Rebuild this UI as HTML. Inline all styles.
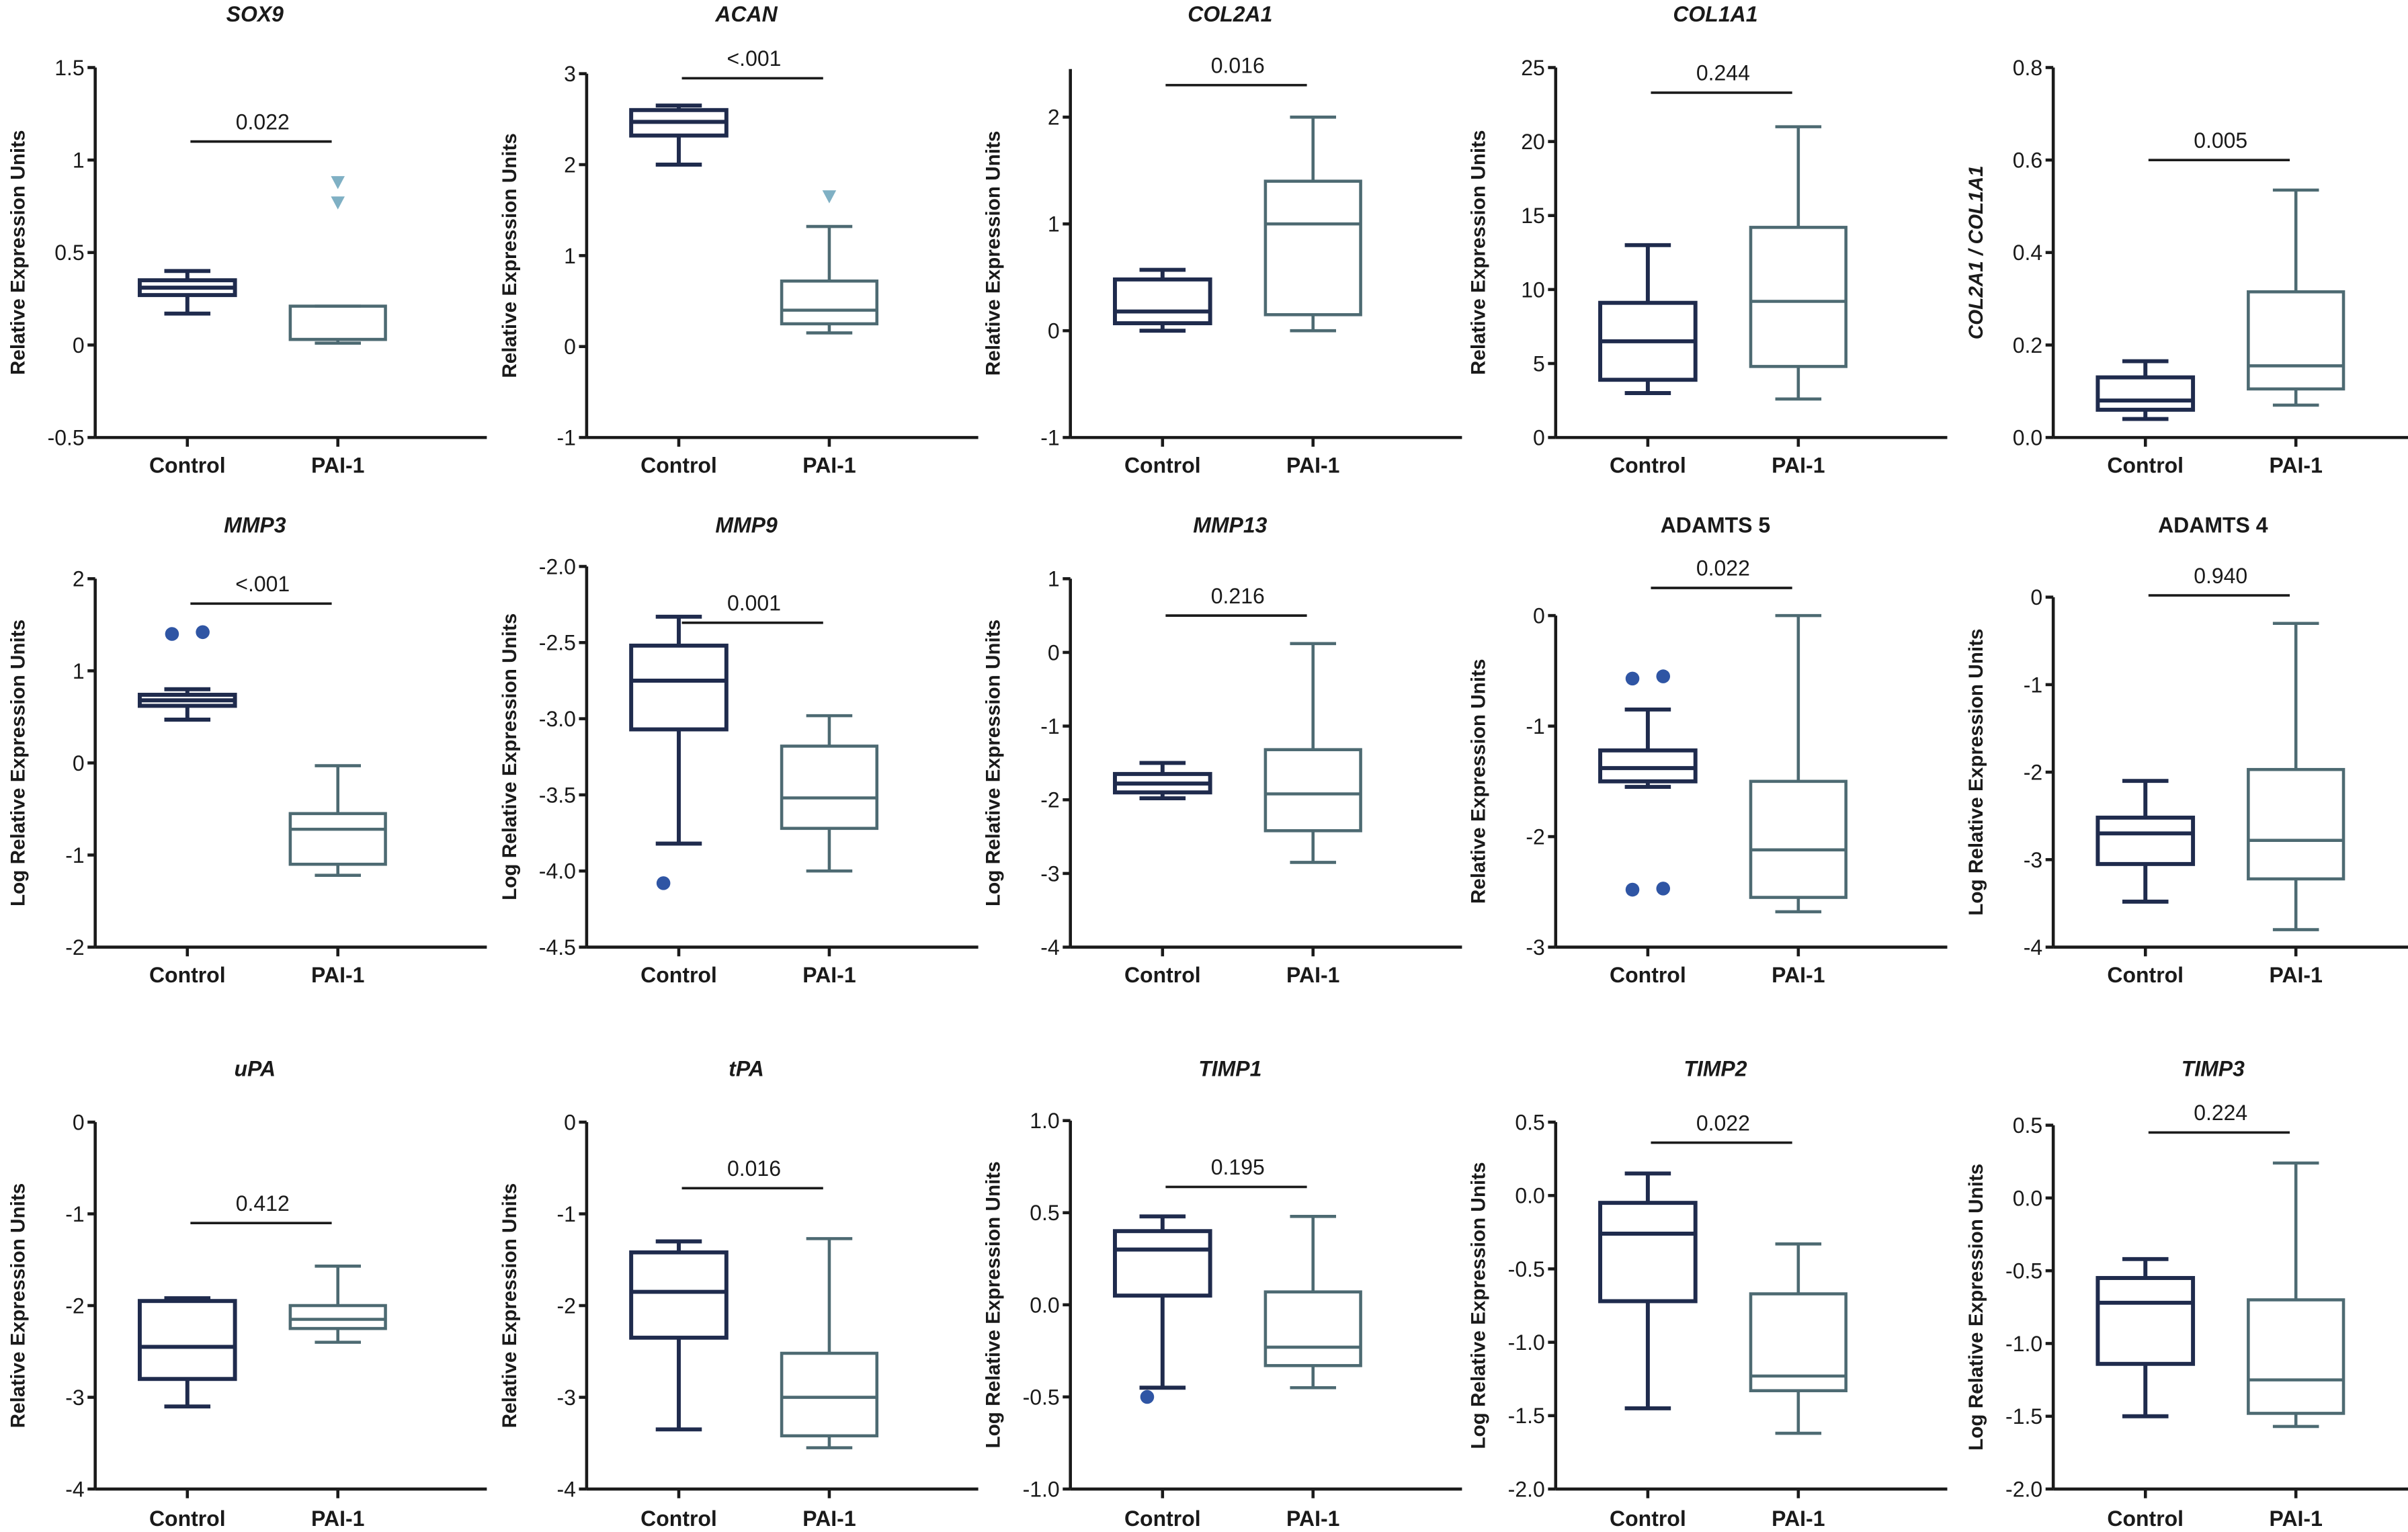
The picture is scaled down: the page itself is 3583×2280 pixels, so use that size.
<!DOCTYPE html>
<html><head><meta charset="utf-8">
<style>
html,body{margin:0;padding:0;background:#fff;}
svg{display:block;}
text{font-family:"Liberation Sans",Arial,sans-serif;fill:#1a1a1a;}
</style></head>
<body>
<svg id="fig" width="3583" height="2280" viewBox="0 0 1568 998" preserveAspectRatio="none" xmlns="http://www.w3.org/2000/svg"></svg>
<script>
// ---- data ----
const titles = ["SOX9","ACAN","COL2A1","COL1A1","","MMP3","MMP9","MMP13","ADAMTS 5","ADAMTS 4","uPA","tPA","TIMP1","TIMP2","TIMP3"];
const titleItalic = [1,1,1,1,1,1,1,1,0,0,1,1,1,1,1];
const yLabels = ["Relative Expression Units","Relative Expression Units","Relative Expression Units","Relative Expression Units","COL2A1 / COL1A1",
 "Log Relative Expression Units","Log Relative Expression Units","Log Relative Expression Units","Relative Expression Units","Log Relative Expression Units",
 "Relative Expression Units","Relative Expression Units","Log Relative Expression Units","Log Relative Expression Units","Log Relative Expression Units"];
const categories = ["Control","PAI-1"];
const tickValues = [
 [1.5,1,0.5,0,-0.5],[3,2,1,0,-1],[2,1,0,-1],[25,20,15,10,5,0],[0.8,0.6,0.4,0.2,0.0],
 [2,1,0,-1,-2],[-2.0,-2.5,-3.0,-3.5,-4.0,-4.5],[1,0,-1,-2,-3,-4],[0,-1,-2,-3],[0,-1,-2,-3,-4],
 [0,-1,-2,-3,-4],[0,-1,-2,-3,-4],[1.0,0.5,0.0,-0.5,-1.0],[0.5,0.0,-0.5,-1.0,-1.5,-2.0],[0.5,0.0,-0.5,-1.0,-1.5,-2.0]];
const tickLabels = [
 ["1.5","1","0.5","0","-0.5"],["3","2","1","0","-1"],["2","1","0","-1"],["25","20","15","10","5","0"],["0.8","0.6","0.4","0.2","0.0"],
 ["2","1","0","-1","-2"],["-2.0","-2.5","-3.0","-3.5","-4.0","-4.5"],["1","0","-1","-2","-3","-4"],["0","-1","-2","-3"],["0","-1","-2","-3","-4"],
 ["0","-1","-2","-3","-4"],["0","-1","-2","-3","-4"],["1.0","0.5","0.0","-0.5","-1.0"],["0.5","0.0","-0.5","-1.0","-1.5","-2.0"],["0.5","0.0","-0.5","-1.0","-1.5","-2.0"]];
const axisTop = [1.5,3,2.45,25,0.8, 2,-2.0,1,0,0, 0,0,1.0,0.5,0.5];
// [min,q1,median,q3,max]
const controlBoxes = [
 [0.17,0.27,0.31,0.35,0.40],[2.0,2.32,2.47,2.6,2.65],[0.0,0.07,0.18,0.48,0.57],[3,3.9,6.5,9.1,13],[0.04,0.06,0.08,0.13,0.165],
 [0.47,0.62,0.68,0.74,0.8],[-3.82,-3.07,-2.75,-2.52,-2.33],[-1.98,-1.9,-1.78,-1.65,-1.5],[-1.55,-1.5,-1.38,-1.22,-0.85],[-3.48,-3.05,-2.7,-2.52,-2.1],
 [-3.1,-2.8,-2.45,-1.95,-1.92],[-3.35,-2.35,-1.85,-1.42,-1.3],[-0.45,0.05,0.3,0.4,0.48],[-1.45,-0.72,-0.26,-0.05,0.15],[-1.5,-1.14,-0.72,-0.55,-0.42]];
const paiBoxes = [
 [0.01,0.03,0.03,0.21,0.21],[0.15,0.25,0.4,0.72,1.32],[0.0,0.15,1.0,1.4,2.0],[2.6,4.8,9.2,14.2,21],[0.07,0.105,0.155,0.315,0.535],
 [-1.22,-1.1,-0.72,-0.55,-0.03],[-4.0,-3.72,-3.52,-3.18,-2.98],[-2.85,-2.42,-1.92,-1.32,0.12],[-2.68,-2.55,-2.12,-1.5,0.0],[-3.8,-3.22,-2.78,-1.97,-0.3],
 [-2.4,-2.25,-2.15,-2.0,-1.57],[-3.55,-3.42,-3.0,-2.52,-1.27],[-0.45,-0.33,-0.23,0.07,0.48],[-1.62,-1.33,-1.23,-0.67,-0.33],[-1.57,-1.48,-1.25,-0.7,0.24]];
const controlOutliers = [[],[],[],[],[], [1.4,1.42],[-4.08],[],[-0.57,-0.55,-2.48,-2.47],[], [],[],[-0.5],[],[]];
const paiOutliers = [[0.88,0.77],[1.65],[],[],[], [],[],[],[],[], [],[],[],[],[]];
const pValues = ["0.022","<.001","0.016","0.244","0.005","<.001","0.001","0.216","0.022","0.940","0.412","0.016","0.195","0.022","0.224"];
const barValues = [1.1,2.95,2.3,23.3,0.6, 1.73,-2.37,0.5,0.25,0.02, -1.1,-0.72,0.64,0.36,0.45];

// ---- layout ----
const colAxisX = [62,382,697,1013,1337];
const panelTopPx = [44,48,45,44,44, 377,369,377,401,389, 731,731,730,731,733];
const rowBotY = [285,617,970];
const rowTitleY = [14,347,701];
const rowCatY = [308,640,994];
const ctrlColor = "#1f2b4d", paiColor = "#4d6a72";
const NS = "http://www.w3.org/2000/svg";
const svg = document.getElementById("fig");
function mk(tag, attrs, parent){const e=document.createElementNS(NS,tag);for(const k in attrs)e.setAttribute(k,attrs[k]);(parent||svg).appendChild(e);return e;}

for(let p=0;p<15;p++){
  const r=Math.floor(p/5), c=p%5;
  const ax=colAxisX[c], yT=panelTopPx[p], yB=rowBotY[r];
  const tv=tickValues[p], vMin=tv[tv.length-1], vMax=axisTop[p];
  const y = v => yB - (v - vMin) / (vMax - vMin) * (yB - yT);
  const xC = [ax+60, ax+158];
  const g = mk("g",{});
  
  
  if(titles[p]){
    const t=mk("text",{x:ax+104,y:rowTitleY[r],"text-anchor":"middle","font-size":14,"font-weight":"bold","font-style":titleItalic[p]?"italic":"normal"},g);
    t.textContent=titles[p];
    
    
  }
  const yl=mk("text",{transform:`translate(${ax-46},${(yT+yB)/2}) rotate(-90)`,"text-anchor":"middle","font-size":13,"font-weight":"bold","font-style":p===4?"italic":"normal"},g);
  yl.textContent=yLabels[p];
  
  
  const axG=mk("g",{stroke:"#1a1a1a","stroke-width":2},g);
  
  
  mk("line",{x1:ax,y1:y(vMax),x2:ax,y2:yB},axG);
  mk("line",{x1:ax,y1:yB,x2:ax+255,y2:yB},axG);
  tv.forEach((v,i)=>{
    mk("line",{x1:ax-5,y1:y(v),x2:ax,y2:y(v)},axG);
    const tl=mk("text",{x:ax-7,y:y(v)+5,"text-anchor":"end","font-size":14},g);
    tl.textContent=tickLabels[p][i];
    
    
  });
  categories.forEach((cat,i)=>{
    mk("line",{x1:xC[i],y1:yB,x2:xC[i],y2:yB+6},axG);
    const cl=mk("text",{x:xC[i],y:rowCatY[r],"text-anchor":"middle","font-size":14,"font-weight":"bold"},g);
    cl.textContent=cat;
    
    
  });
  [controlBoxes[p],paiBoxes[p]].forEach((b,i)=>{
    const col=i===0?ctrlColor:paiColor, cx=xC[i], hw=31, cw=15;
    const bg=mk("g",{stroke:col,"stroke-width":i===0?2.6:2,fill:"none"},g);
    
    
    mk("line",{x1:cx,y1:y(b[0]),x2:cx,y2:y(b[1])},bg);
    mk("line",{x1:cx,y1:y(b[3]),x2:cx,y2:y(b[4])},bg);
    mk("line",{x1:cx-cw,y1:y(b[0]),x2:cx+cw,y2:y(b[0])},bg);
    mk("line",{x1:cx-cw,y1:y(b[4]),x2:cx+cw,y2:y(b[4])},bg);
    mk("rect",{x:cx-hw,y:y(b[3]),width:hw*2,height:Math.max(0.5,y(b[1])-y(b[3]))},bg);
    mk("line",{x1:cx-hw,y1:y(b[2]),x2:cx+hw,y2:y(b[2])},bg);
  });
  controlOutliers[p].forEach((v,k)=>{
    const d=mk("circle",{cx:xC[0]+(k%2===0?-10:10),cy:y(v),r:4.5,fill:"#2f55a4"},g);
    
    
  });
  paiOutliers[p].forEach(v=>{
    const cx=xC[1], cy=y(v);
    const d=mk("polygon",{points:`${cx-4.5},${cy-4} ${cx+4.5},${cy-4} ${cx},${cy+4.5}`,fill:"#7fb0c4"},g);
    
    
  });
  const by=y(barValues[p]);
  const sb=mk("line",{x1:xC[0]+2,y1:by,x2:xC[1]-4,y2:by,stroke:"#1a1a1a","stroke-width":1.6},g);
  
  
  const pv=mk("text",{x:(xC[0]+xC[1])/2,y:by-8,"text-anchor":"middle","font-size":14},g);
  pv.textContent=pValues[p];
  
  
}
</script>
</body></html>
